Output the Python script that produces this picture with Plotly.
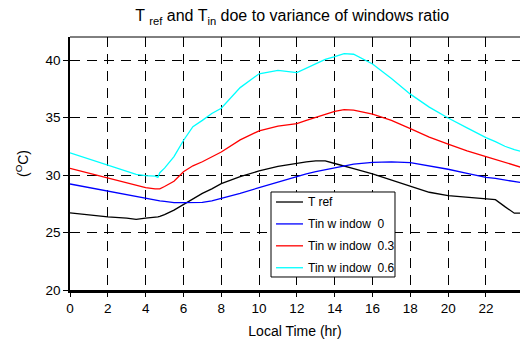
import plotly.graph_objects as go

hours = [0, 1, 2, 3, 3.5, 4, 4.5, 4.65, 4.75, 5, 5.5, 6, 6.5, 7, 7.5, 8, 9, 10, 11, 12,
         12.5, 13, 13.5, 14, 14.5, 15, 16, 17, 18, 19, 20, 21, 22, 22.5, 23, 23.5, 24]

t_ref = [26.7, 26.5, 26.35, 26.25, 26.15, 26.25, 26.3, 26.35, 26.4, 26.55, 26.95, 27.45, 27.95,
         28.4, 28.8, 29.25, 29.85, 30.35, 30.75, 31.05, 31.15, 31.22, 31.22, 31.0, 30.8, 30.55,
         30.1, 29.55, 29.0, 28.5, 28.2, 28.05, 27.95, 27.85, 27.25, 26.68, 26.68]

tin_0 = [29.22, 28.9, 28.6, 28.3, 28.15, 28.0, 27.8, 27.77, 27.75, 27.7, 27.6, 27.6, 27.6,
         27.62, 27.75, 27.95, 28.4, 28.9, 29.4, 29.9, 30.1, 30.3, 30.45, 30.63, 30.8, 30.95,
         31.1, 31.15, 31.07, 30.8, 30.5, 30.15, 29.8, 29.7, 29.55, 29.4, 29.3]

tin_03 = [30.58, 30.15, 29.71, 29.3, 29.1, 28.9, 28.8, 28.78, 28.8, 29.0, 29.45, 30.29, 30.8,
          31.15, 31.55, 32.0, 33.05, 33.84, 34.25, 34.47, 34.75, 35.0, 35.3, 35.54, 35.68, 35.65,
          35.3, 34.75, 34.04, 33.3, 32.68, 32.1, 31.6, 31.35, 31.05, 30.85, 30.6]

tin_06 = [31.93, 31.4, 30.87, 30.35, 30.06, 29.95, 29.9, 29.8, 30.2, 30.6, 31.6, 33.0, 34.2,
          34.75, 35.35, 35.8, 37.6, 38.8, 39.1, 38.9, 39.3, 39.7, 40.05, 40.3, 40.55, 40.5,
          39.65, 38.4, 37.03, 35.9, 34.96, 34.1, 33.25, 32.9, 32.5, 32.2, 32.0]

series_names = ["T ref", "Tin w indow  0", "Tin w indow  0.3", "Tin w indow  0.6"]
series_values = [t_ref, tin_0, tin_03, tin_06]
series_colors = ["#000000", "#0000ff", "#ff0000", "#00ffff"]

x_ticks = [0, 2, 4, 6, 8, 10, 12, 14, 16, 18, 20, 22]
y_ticks = [20, 25, 30, 35, 40]

font = "Liberation Sans, Arial, sans-serif"

fig = go.Figure()
for name, vals, col in zip(series_names, series_values, series_colors):
    fig.add_trace(go.Scatter(x=hours, y=vals, mode="lines", name=name,
                             line=dict(color=col, width=1.3), showlegend=False))

# legend box (MATLAB style), drawn in paper coordinates
lg_x0, lg_x1, lg_y0, lg_y1 = 0.4467, 0.7222, 0.0514, 0.3874
row_top, row_step = 0.3478, 0.0866
line_x0, line_x1, text_x = 0.4578, 0.5178, 0.5244
fig.add_shape(type="rect", xref="paper", yref="paper", x0=lg_x0, x1=lg_x1, y0=lg_y0, y1=lg_y1,
              line=dict(color="black", width=1), fillcolor="white", layer="above")
for i, (name, col) in enumerate(zip(series_names, series_colors)):
    yy = row_top - i * row_step
    fig.add_shape(type="line", xref="paper", yref="paper", x0=line_x0, x1=line_x1, y0=yy, y1=yy,
                  line=dict(color=col, width=1.3), layer="above")
    fig.add_annotation(text=name, xref="paper", yref="paper", x=text_x, y=yy,
                       xanchor="left", yanchor="middle", showarrow=False,
                       font=dict(size=12, family=font, color="black"))

fig.update_layout(
    width=520, height=347,
    margin=dict(l=70, r=0, t=37, b=57),
    paper_bgcolor="white", plot_bgcolor="white",
    font=dict(family=font, size=13, color="black"),
    title=dict(text="T <sub>ref</sub> and T<sub>in</sub> doe to variance of windows ratio",
               x=0.562, xanchor="center", y=0.955, yanchor="middle",
               font=dict(size=16, family=font)),
    showlegend=False,
)
fig.update_xaxes(range=[0, 23.8], tickvals=x_ticks, ticktext=[str(t) for t in x_ticks],
                 showgrid=True, gridcolor="#000000", griddash="10px,7px", gridwidth=1,
                 showline=True, linecolor="black", linewidth=2.5,
                 ticks="outside", ticklen=4, tickcolor="black",
                 zeroline=False,
                 title=dict(text="Local Time (hr)", font=dict(size=14, family=font), standoff=12),
                 tickfont=dict(size=13.5))
fig.update_yaxes(range=[20, 42], tickvals=y_ticks, ticktext=[str(t) for t in y_ticks],
                 showgrid=True, gridcolor="#000000", griddash="10px,7px", gridwidth=1,
                 showline=True, linecolor="black", linewidth=1.5,
                 ticks="outside", ticklen=5, tickcolor="black",
                 zeroline=False,
                 title=dict(text="(<sup>O</sup>C)", font=dict(size=14, family=font), standoff=14),
                 tickfont=dict(size=13.5))
fig.add_shape(type="line", xref="paper", yref="paper", x0=0, x1=1, y0=1, y1=1,
              line=dict(color="black", width=1))

fig.write_html("out.html")
